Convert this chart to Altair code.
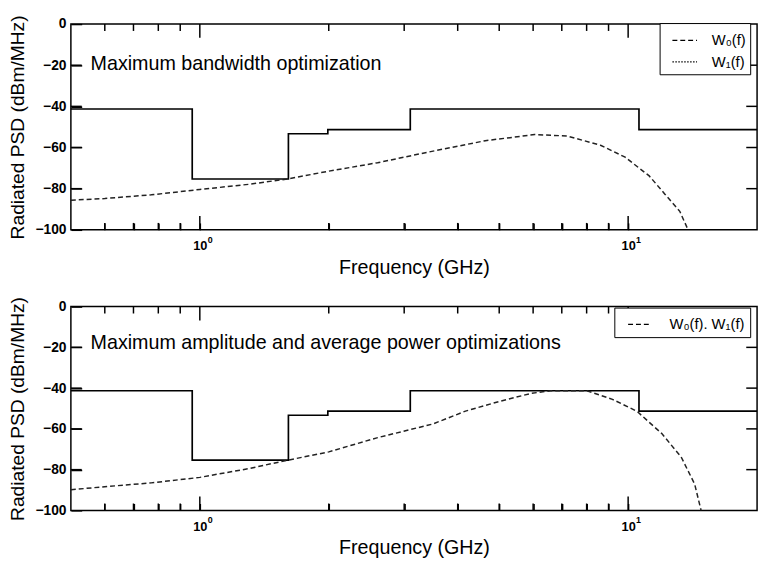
import altair as alt
import pandas as pd

FONT = "Liberation Sans"

# FCC-type emission mask (step edges, GHz) and levels (dBm/MHz)
mask_f = [0.5, 0.96, 1.61, 1.99, 3.1, 10.6, 20.0]
mask_db = [-41.3, -75.3, -53.3, -51.3, -41.3, -51.3, -51.3]

# Top panel: W0(f) for maximum bandwidth optimization
w0_f = [0.5, 0.6, 0.77, 1.0, 1.3, 1.6, 2.0, 2.6, 3.57, 4.64, 6.05, 7.2, 8.62, 9.84, 11.2, 12.2, 13.2, 13.8]
w0_db = [-85.6, -84.8, -83.0, -80.4, -77.9, -75.3, -71.5, -67.4, -61.4, -56.7, -53.7, -54.4, -58.9, -64.7, -73.8, -82.8, -91.0, -100.0]

# Bottom panel: W0(f), W1(f) for max amplitude / average power optimizations
w01_f = [0.5, 0.59, 0.77, 1.0, 1.3, 1.61, 2.0, 2.59, 3.5, 4.17, 4.99, 5.93, 6.59, 7.3, 8.01, 9.19, 10.49, 11.97, 13.3, 14.3, 14.8]
w01_db = [-89.9, -88.5, -86.5, -83.8, -79.5, -75.3, -71.3, -64.4, -57.6, -51.3, -46.6, -42.6, -41.3, -41.3, -41.3, -45.5, -51.4, -62.2, -73.8, -87.1, -100.0]

# axis tick positions / labels
minor_ticks = [0.6, 0.7, 0.8, 0.9, 2, 3, 4, 5, 6, 7, 8, 9]
major_ticks = [1, 10]
major_exp = ["0", "1"]
y_labels = [0, -20, -40, -60, -80, -100]
y_inner = [-20, -40, -60, -80]

top_series = ["W\u2080(f)", "W\u2081(f)"]
bot_series = ["W\u2080(f). W\u2081(f)"]

W = 697
X_MIN, X_MAX = 0.5, 20.0

mask_df = pd.DataFrame({"f": mask_f, "db": mask_db})
major_df = pd.DataFrame({"f": major_ticks, "s": major_exp})


def tick_table(H):
    """Inward frame ticks as short segments (two rows per tick), built from the tick lists."""
    px_y = 100.0 / H
    dec_per_px = 1.60206 / W
    rows = []
    k = 0
    for f in minor_ticks + major_ticks:
        ln = (14 if f in major_ticks else 7) * px_y
        for y0, y1 in ((-100, -100 + ln), (0, -ln)):
            rows += [{"f": float(f), "db": y0, "id": k}, {"f": float(f), "db": y1, "id": k}]
            k += 1
    xl = X_MIN * 10 ** (11 * dec_per_px)
    xr = X_MAX / 10 ** (11 * dec_per_px)
    for d in y_inner:
        for x0, x1 in ((X_MIN, xl), (X_MAX, xr)):
            rows += [{"f": x0, "db": float(d), "id": k}, {"f": x1, "db": float(d), "id": k}]
            k += 1
    return pd.DataFrame(rows)


def panel(curve_f, curve_db, series_name, domain, dashes, note, H, sym, lab_off, note_y,
          leg_pad, leg_x, leg_y):
    xs = alt.Scale(type="log", domain=[X_MIN, X_MAX])
    ys = alt.Scale(domain=[-100, 0])
    # axes drawn with inward ticks: the axis line is moved inside by the tick length
    xaxis = alt.Axis(values=minor_ticks + major_ticks,
                     labelExpr="(datum.value == 1 || datum.value == 10) ? '10' : ''",
                     labelOverlap=False,
                     ticks=True, tickSize=7, tickColor="black", tickWidth=1.5, offset=-7,
                     domain=False, grid=False,
                     title="Frequency (GHz)", labelFont=FONT, labelFontSize=13,
                     labelFontWeight="bold", labelPadding=10, labelColor="black",
                     titleFont=FONT, titleFontSize=20, titleFontWeight="normal",
                     titlePadding=5, titleColor="black")
    yaxis = alt.Axis(values=y_labels, ticks=True, tickSize=11, tickColor="black",
                     tickWidth=1.5, offset=-11, domain=False, grid=False,
                     title="Radiated PSD (dBm/MHz)", labelFont=FONT, labelFontSize=14,
                     labelFontWeight="bold", labelPadding=5, labelColor="black",
                     titleFont=FONT, titleFontSize=19.5, titleFontWeight="normal",
                     titlePadding=8, titleColor="black")
    mask = alt.Chart(mask_df).mark_line(interpolate="step-after", color="black",
                                         strokeWidth=1.7).encode(
        x=alt.X("f:Q", scale=xs, axis=xaxis),
        y=alt.Y("db:Q", scale=ys, axis=yaxis))
    ticks = alt.Chart(tick_table(H)).mark_line(color="#000000", strokeWidth=1.5,
                                               opacity=1).encode(
        x=alt.X("f:Q", scale=xs),
        y=alt.Y("db:Q", scale=ys),
        detail="id:N")
    cdf = pd.DataFrame({"f": curve_f, "db": curve_db, "series": series_name})
    curve = alt.Chart(cdf).mark_line(color="#222222", strokeWidth=1.5).encode(
        x=alt.X("f:Q", scale=xs),
        y=alt.Y("db:Q", scale=ys),
        strokeDash=alt.StrokeDash("series:N",
                                  scale=alt.Scale(domain=domain, range=dashes),
                                  legend=alt.Legend(title=None, orient="none",
                                                    legendX=leg_x, legendY=leg_y,
                                                    strokeColor="black", fillColor="white",
                                                    padding=leg_pad, symbolType="stroke",
                                                    symbolStrokeColor="black",
                                                    symbolStrokeWidth=1.3, symbolSize=sym,
                                                    symbolOffset=8,
                                                    labelFont=FONT, labelFontSize=15,
                                                    labelColor="black", labelOffset=lab_off,
                                                    rowPadding=0)))
    sup = alt.Chart(major_df).mark_text(align="left", baseline="alphabetic", dx=8,
                                        font=FONT, fontSize=9, fontWeight="bold",
                                        color="black").encode(
        x=alt.X("f:Q", scale=xs), y=alt.value(H + 13), text="s:N")
    txt = alt.Chart(pd.DataFrame({"t": [note]})).mark_text(
        align="left", baseline="alphabetic", font=FONT, fontSize=20, color="black").encode(
        x=alt.value(20), y=alt.value(note_y), text="t:N")
    return alt.layer(mask, sup, txt, curve, ticks).properties(width=W, height=H)


top = panel(w0_f, w0_db, top_series[0], top_series, [[5, 3], [1.5, 1.5]],
            "Maximum bandwidth optimization", 209, 625, 14, 47, 4, 598, -1)
bottom = panel(w01_f, w01_db, bot_series[0], bot_series, [[5, 3]],
               "Maximum amplitude and average power optimizations", 207, 484, 19, 43, 5, 552, 1)

chart = alt.vconcat(top, bottom, spacing=17).resolve_scale(
    strokeDash="independent").resolve_legend(strokeDash="independent").configure_view(
    stroke="black", strokeWidth=1.5).properties(
    padding={"left": 6, "top": 9, "right": 0, "bottom": 0}, background="white")

chart.save("out.html", embed_options={"renderer": "svg", "actions": False})
